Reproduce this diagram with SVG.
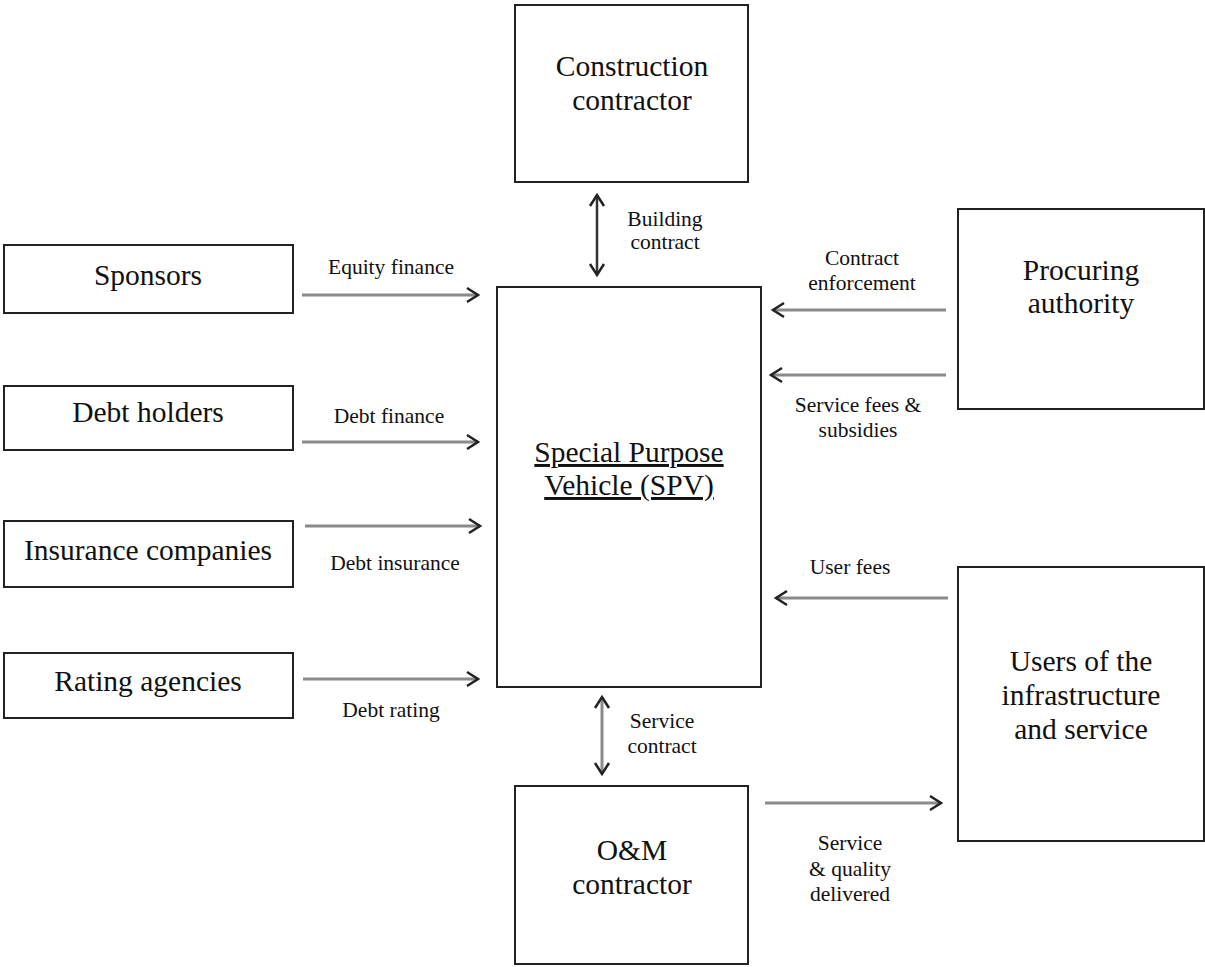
<svg xmlns="http://www.w3.org/2000/svg" width="1205" height="967" viewBox="0 0 1205 967">
<style>
.box{fill:#fff;stroke:#222;stroke-width:2}
.t{font-family:"Liberation Serif","Times New Roman",serif;font-size:29.5px;fill:#111;text-anchor:middle}
.l{font-family:"Liberation Serif","Times New Roman",serif;font-size:21.5px;fill:#111;text-anchor:middle}
.a{stroke:#8a8a8a;stroke-width:3;fill:none}
.d{stroke:#333;stroke-width:2.5;fill:none}
</style>
<defs>
<marker id="ah" markerUnits="userSpaceOnUse" markerWidth="16" markerHeight="18" refX="13" refY="9" orient="auto-start-reverse" viewBox="0 0 16 18">
<path d="M2,2 L13,9 L2,16" fill="none" stroke="#222" stroke-width="2.5"/>
</marker>
</defs>
<rect width="1205" height="967" fill="#fff"/>
<g id="construction"><rect class="box" x="515" y="5" width="233" height="177"/><text class="t" x="632" y="76">Construction</text><text class="t" x="632" y="110">contractor</text></g>
<g id="sponsors"><rect class="box" x="4" y="245" width="289" height="68"/><text class="t" x="148" y="285">Sponsors</text></g>
<g id="debtholders"><rect class="box" x="4" y="386" width="289" height="64"/><text class="t" x="148" y="422">Debt holders</text></g>
<g id="insurance"><rect class="box" x="4" y="521" width="289" height="66"/><text class="t" x="148" y="560">Insurance companies</text></g>
<g id="rating"><rect class="box" x="4" y="653" width="289" height="65"/><text class="t" x="148" y="691">Rating agencies</text></g>
<g id="spv"><rect class="box" x="497" y="287" width="264" height="400"/><text class="t" x="629" y="462" text-decoration="underline">Special Purpose</text><text class="t" x="629" y="495" text-decoration="underline">Vehicle (SPV)</text></g>
<g id="procuring"><rect class="box" x="958" y="209" width="246" height="200"/><text class="t" x="1081" y="280">Procuring</text><text class="t" x="1081" y="313">authority</text></g>
<g id="users"><rect class="box" x="958" y="567" width="246" height="274"/><text class="t" x="1081" y="671">Users of the</text><text class="t" x="1081" y="705">infrastructure</text><text class="t" x="1081" y="739">and service</text></g>
<g id="om"><rect class="box" x="515" y="786" width="233" height="178"/><text class="t" x="632" y="860">O&amp;M</text><text class="t" x="632" y="894">contractor</text></g>
<g id="connectors">
<line class="a" x1="302" y1="295" x2="478" y2="295" marker-end="url(#ah)"/>
<line class="a" x1="302" y1="442" x2="478" y2="442" marker-end="url(#ah)"/>
<line class="a" x1="305" y1="526" x2="480" y2="526" marker-end="url(#ah)"/>
<line class="a" x1="303" y1="679" x2="478" y2="679" marker-end="url(#ah)"/>
<line class="d" x1="597" y1="195" x2="597" y2="275" marker-start="url(#ah)" marker-end="url(#ah)"/>
<line class="a" x1="602" y1="697" x2="602" y2="774" marker-start="url(#ah)" marker-end="url(#ah)"/>
<line class="a" x1="946" y1="310" x2="773" y2="310" marker-end="url(#ah)"/>
<line class="a" x1="946" y1="375" x2="771" y2="375" marker-end="url(#ah)"/>
<line class="a" x1="948" y1="598" x2="776" y2="598" marker-end="url(#ah)"/>
<line class="a" x1="765" y1="803" x2="941" y2="803" marker-end="url(#ah)"/>
<text class="l" x="391" y="274">Equity finance</text>
<text class="l" x="389" y="423">Debt finance</text>
<text class="l" x="395" y="570">Debt insurance</text>
<text class="l" x="391" y="717">Debt rating</text>
<text class="l" x="665" y="226">Building</text><text class="l" x="665" y="249">contract</text>
<text class="l" x="862" y="265">Contract</text><text class="l" x="862" y="290">enforcement</text>
<text class="l" x="858" y="412">Service fees &amp;</text><text class="l" x="858" y="437">subsidies</text>
<text class="l" x="850" y="574">User fees</text>
<text class="l" x="662" y="728">Service</text><text class="l" x="662" y="753">contract</text>
<text class="l" x="850" y="850">Service</text><text class="l" x="850" y="876">&amp; quality</text><text class="l" x="850" y="901">delivered</text>
</g>
</svg>
